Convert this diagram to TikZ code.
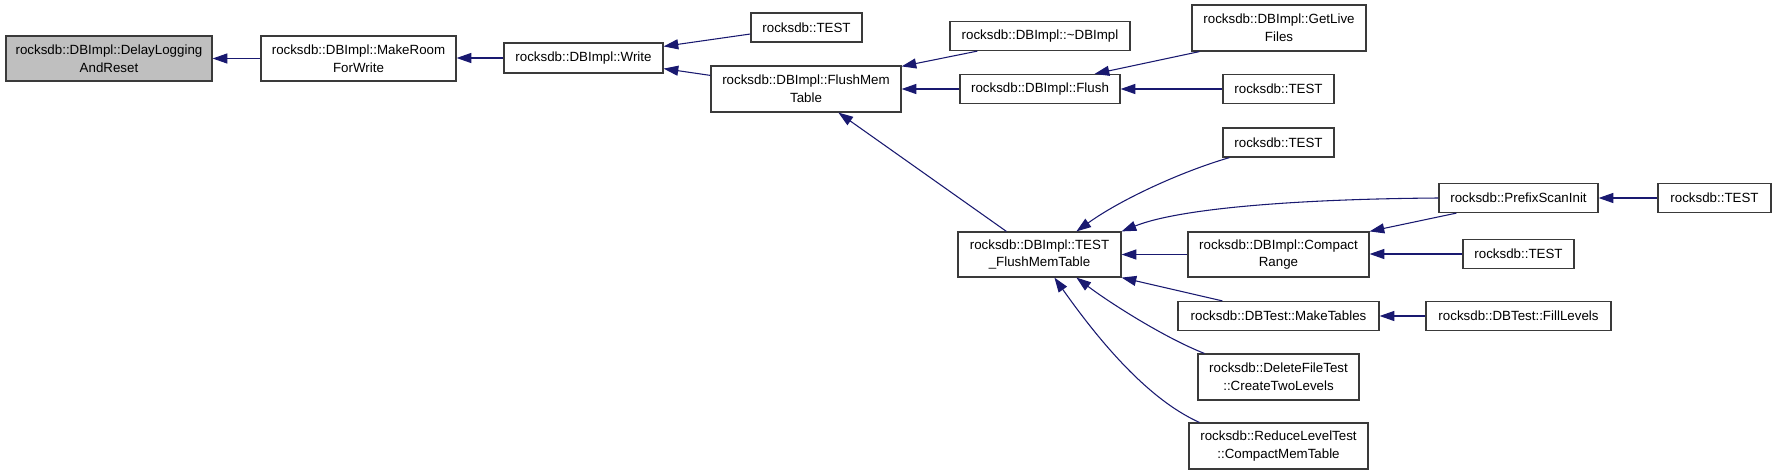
\documentclass[tikz,border=0pt]{standalone}
\usepackage{fontspec}
\setmainfont{Liberation Sans}
\usetikzlibrary{arrows.meta,calc}
\definecolor{edgeblue}{HTML}{191970}
\definecolor{nodegray}{HTML}{BFBFBF}
\definecolor{bordergray}{HTML}{3A3A3A}
\begin{document}
\begin{tikzpicture}[x=0.75pt,y=-0.75pt,
  font=\fontsize{10}{13.3}\selectfont,
  nd/.style 2 args={draw=bordergray, line width=0.9pt, fill=white,
    minimum width=#1*0.75pt, minimum height=#2*0.75pt, inner sep=0pt,
    align=center, anchor=center},
  edge/.style={draw=edgeblue, line width=0.8pt,
    -{Triangle[length=11pt,width=7.5pt]}}]
\fill[white] (0,0) rectangle (1776,475);
\useasboundingbox (0,0) rectangle (1776,475);

\node[nd={206}{45},fill=nodegray] (dlr) at (109,58.5) {rocksdb::DBImpl::DelayLogging\\AndReset};
\node[nd={195}{45}] (mrw) at (358.5,58.5) {rocksdb::DBImpl::MakeRoom\\ForWrite};
\node[nd={159}{30}] (wr) at (583.5,58) {rocksdb::DBImpl::Write};
\node[nd={111}{29}] (t1) at (806.5,27.5) {rocksdb::TEST};
\node[nd={190}{46}] (fmt) at (806,89) {rocksdb::DBImpl::FlushMem\\Table};
\node[nd={180}{29}] (dtor) at (1040,36) {rocksdb::DBImpl::\textasciitilde DBImpl};
\node[nd={160}{29}] (fl) at (1040,89) {rocksdb::DBImpl::Flush};
\node[nd={174}{46}] (glf) at (1279,28) {rocksdb::DBImpl::GetLive\\Files};
\node[nd={111}{29}] (t2) at (1278.5,89) {rocksdb::TEST};
\node[nd={111}{29}] (t3) at (1278.5,142.5) {rocksdb::TEST};
\node[nd={163}{45}] (tfmt) at (1039.5,254.5) {rocksdb::DBImpl::TEST\\\_FlushMemTable};
\node[nd={159}{29}] (psi) at (1518.5,198) {rocksdb::PrefixScanInit};
\node[nd={113}{29}] (t4) at (1714.5,198) {rocksdb::TEST};
\node[nd={181}{45}] (cr) at (1278.5,254.5) {rocksdb::DBImpl::Compact\\Range};
\node[nd={111}{29}] (t5) at (1518.5,254) {rocksdb::TEST};
\node[nd={201}{29}] (mt) at (1278.5,316) {rocksdb::DBTest::MakeTables};
\node[nd={185}{29}] (fil) at (1518.5,316) {rocksdb::DBTest::FillLevels};
\node[nd={161}{46}] (dft) at (1278.5,377) {rocksdb::DeleteFileTest\\::CreateTwoLevels};
\node[nd={179}{46}] (rlt) at (1278.5,446) {rocksdb::ReduceLevelTest\\::CompactMemTable};

\draw[edge] (mrw.west) -- (dlr.east);
\draw[edge] (wr.west) -- (mrw.east |- wr.west);
\draw[edge] ($(t1.west)+(0,6.5)$) -- ($(wr.north east)+(0,4)$);
\draw[edge] ($(fmt.north west)+(0,10)$) -- ($(wr.south east)+(0,-5)$);
\draw[edge] ($(dtor.south west)+(28,0)$) -- ($(fmt.north east)+(0,1)$);
\draw[edge] (fl.west) -- (fmt.east);
\draw[edge] ($(glf.south west)+(8,0)$) -- ($(fl.north east)+(-26,0)$);
\draw[edge] (t2.west) -- (fl.east);
\draw[edge] ($(tfmt.north west)+(49,0)$) -- ($(fmt.south west)+(128,0)$);
\draw[edge] ($(t3.south west)+(7,0)$) .. controls (1180,172) and (1120,200) .. ($(tfmt.north west)+(119,0)$);
\draw[edge] (psi.west) .. controls (1300,199) and (1180,208) .. (tfmt.north east);
\draw[edge] (cr.west) -- (tfmt.east);
\draw[edge] ($(mt.north west)+(45,0)$) -- (tfmt.south east);
\draw[edge] ($(dft.north west)+(7,0)$) .. controls (1165,338) and (1110,303) .. ($(tfmt.south west)+(119,0)$);
\draw[edge] ($(rlt.north west)+(11,0)$) .. controls (1145,398) and (1095,335) .. ($(tfmt.south west)+(97,0)$);
\draw[edge] ($(psi.south west)+(18,0)$) -- (cr.north east);
\draw[edge] (t4.west) -- (psi.east);
\draw[edge] (t5.west) -- (cr.east |- t5.west);
\draw[edge] (fil.west) -- (mt.east);
\end{tikzpicture}
\end{document}
